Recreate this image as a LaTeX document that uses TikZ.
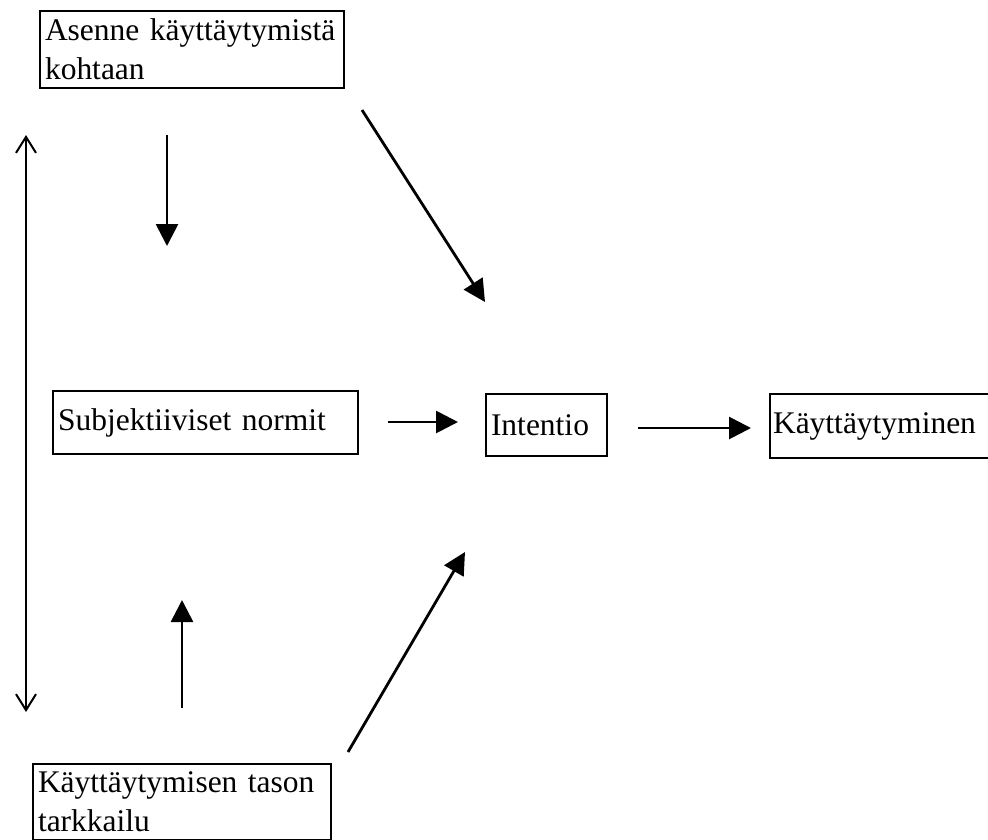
\documentclass[tikz,border=0pt]{standalone}
\usepackage{fontspec}
\setmainfont{Liberation Serif}
\usetikzlibrary{arrows.meta}
\tikzset{
  boxnode/.style={draw, line width=2pt, rectangle, anchor=north west, align=left,
    inner xsep=5pt, inner ysep=0pt, font=\fontsize{31.5}{39}\selectfont},
  arr/.style={line width=2.8pt, -{Triangle[length=22pt,width=22pt]}},
  dblarr/.style={line width=2pt, {Straight Barb[length=16pt,width=20pt]}-{Straight Barb[length=16pt,width=20pt]}}
}
\begin{document}
\begin{tikzpicture}[x=1pt,y=-1pt]
\useasboundingbox (0,0) rectangle (988,839);
% boxes
\node[boxnode, text width=294pt, minimum height=77pt] (A) at (39,10) {\mbox{Asenne käyttäytymistä}\\\mbox{kohtaan}};
\node[boxnode, text width=295pt, minimum height=63pt] (S) at (52,390) {\mbox{Subjektiiviset normit}};
\node[boxnode, text width=111pt, minimum height=62pt] (I) at (485,393) {\mbox{Intentio}};
\node[boxnode, text width=216pt, minimum height=64pt, inner xsep=3pt] (K) at (769,393) {\mbox{Käyttäytyminen}};
\node[boxnode, text width=288pt, minimum height=76pt] (B) at (32,763) {\mbox{Käyttäytymisen tason}\\\mbox{tarkkailu}};
% free connector ends
\coordinate (d1s) at (167,135);
\coordinate (d1e) at (167,246);
\coordinate (g1s) at (362,110);
\coordinate (g1e) at (485,302);
\coordinate (h1s) at (388,422);
\coordinate (h1e) at (458,422);
\coordinate (h2s) at (638,428);
\coordinate (h2e) at (751,428);
\coordinate (u1s) at (182,708);
\coordinate (u1e) at (182,600);
\coordinate (g2s) at (348,752);
\coordinate (g2e) at (465,552);
\coordinate (v1s) at (26,135);
\coordinate (v1e) at (26,712);
% connectors
\draw[arr] (d1s) -- (d1e);
\draw[arr] (g1s) -- (g1e);
\draw[arr] (h1s) -- (h1e);
\draw[arr] (h2s) -- (h2e);
\draw[arr] (u1s) -- (u1e);
\draw[arr] (g2s) -- (g2e);
\draw[dblarr] (v1s) -- (v1e);
\end{tikzpicture}
\end{document}
